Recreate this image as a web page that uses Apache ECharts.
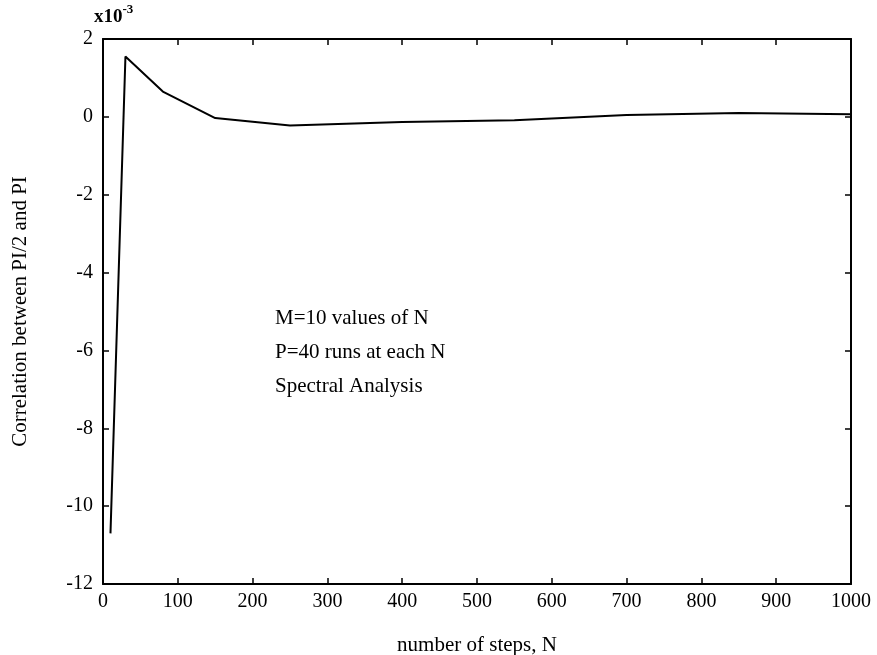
<!DOCTYPE html>
<html>
<head>
<meta charset="utf-8">
<script src="https://cdn.jsdelivr.net/npm/echarts@6/dist/echarts.min.js"></script>
<style>
  html, body { margin: 0; padding: 0; background: #fff; }
  #chart { width: 877px; height: 655px; }
</style>
</head>
<body>
<div id="chart"></div>
<script>
// number of steps N and the correlation (units of 1e-3)
var steps = [10, 30, 80, 150, 250, 400, 550, 700, 850, 1000];
var corr = [-10.7, 1.55, 0.65, -0.03, -0.22, -0.13, -0.09, 0.05, 0.1, 0.07];
var xTicks = [0, 100, 200, 300, 400, 500, 600, 700, 800, 900, 1000];
var yTicks = [-12, -10, -8, -6, -4, -2, 0, 2];
var notes = ['M=10 values of N', 'P=40 runs at each N', 'Spectral Analysis'];

var font = 'Liberation Serif';
var ink = '#000';

var myChart = echarts.init(document.getElementById('chart'));

var pts = [];
for (var i = 0; i < steps.length; i++) pts.push([steps[i], corr[i]]);

var axLine = { show: true, onZero: false, lineStyle: { color: ink, width: 2 } };
var axTick = { show: true, inside: true, length: 6, lineStyle: { color: ink, width: 1.5 } };

option = {
    backgroundColor: '#fff',
    animation: false,
    grid: { left: 103, right: 26, top: 39, bottom: 71, containLabel: false, outerBoundsMode: 'none' },
    xAxis: [{
        type: 'value',
        min: xTicks[0],
        max: xTicks[xTicks.length - 1],
        interval: 100,
        axisLine: axLine,
        axisTick: axTick,
        splitLine: { show: false },
        axisLabel: {
            color: ink, fontFamily: font, fontSize: 20, margin: 8,
            formatter: function (v) { return String(v); }
        },
        name: 'number of steps, N',
        nameLocation: 'middle',
        nameGap: 51,
        nameTextStyle: { color: ink, fontFamily: font, fontSize: 21 }
    }, {
        type: 'value',
        position: 'top',
        min: xTicks[0],
        max: xTicks[xTicks.length - 1],
        interval: 100,
        axisLine: axLine,
        axisTick: axTick,
        splitLine: { show: false },
        axisLabel: { show: false }
    }],
    yAxis: [{
        type: 'value',
        min: yTicks[0],
        max: yTicks[yTicks.length - 1],
        interval: 2,
        axisLine: axLine,
        axisTick: axTick,
        splitLine: { show: false },
        axisLabel: { color: ink, fontFamily: font, fontSize: 20, margin: 10 },
        name: 'Correlation between PI/2 and PI',
        nameLocation: 'middle',
        nameGap: 72,
        nameTextStyle: { color: ink, fontFamily: font, fontSize: 21 }
    }, {
        type: 'value',
        position: 'right',
        min: yTicks[0],
        max: yTicks[yTicks.length - 1],
        interval: 2,
        axisLine: axLine,
        axisTick: axTick,
        splitLine: { show: false },
        axisLabel: { show: false }
    }],
    graphic: [{
        type: 'text',
        left: 94,
        top: 3,
        style: {
            text: '{b|x10}{s|-3}',
            rich: {
                b: { fontFamily: font, fontSize: 19, fontWeight: 'bold', fill: ink, verticalAlign: 'bottom', lineHeight: 24 },
                s: { fontFamily: font, fontSize: 13, fontWeight: 'bold', fill: ink, verticalAlign: 'top', lineHeight: 24 }
            }
        }
    }, {
        type: 'text',
        left: 275,
        top: 301,
        style: {
            text: notes.join('\n'),
            fontFamily: font,
            fontSize: 21,
            lineHeight: 34,
            fill: ink
        }
    }],
    series: [{
        type: 'line',
        data: pts,
        symbol: 'none',
        lineStyle: { color: ink, width: 2 },
        clip: false
    }]
};
myChart.setOption(option);
</script>
</body>
</html>
